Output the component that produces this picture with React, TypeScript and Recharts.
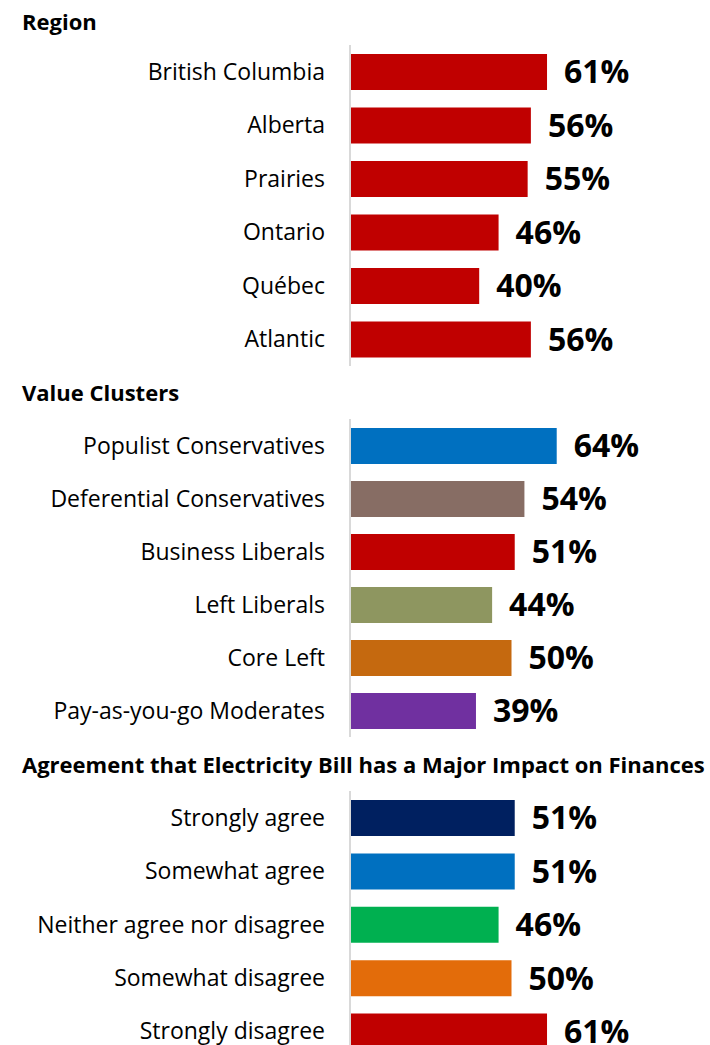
import { BarChart, Bar, XAxis, YAxis, Cell, LabelList } from "recharts";

const regionLabels = ["British Columbia", "Alberta", "Prairies", "Ontario", "Québec", "Atlantic"];
const regionValues = [61, 56, 55, 46, 40, 56];
const regionColors = ["#C00000", "#C00000", "#C00000", "#C00000", "#C00000", "#C00000"];

const clusterLabels = [
  "Populist Conservatives",
  "Deferential Conservatives",
  "Business Liberals",
  "Left Liberals",
  "Core Left",
  "Pay-as-you-go Moderates",
];
const clusterValues = [64, 54, 51, 44, 50, 39];
const clusterColors = ["#0070C0", "#876D64", "#C00000", "#8E9660", "#C5690F", "#7030A0"];

const agreeLabels = [
  "Strongly agree",
  "Somewhat agree",
  "Neither agree nor disagree",
  "Somewhat disagree",
  "Strongly disagree",
];
const agreeValues = [51, 51, 46, 50, 61];
const agreeColors = ["#002060", "#0070C0", "#00B050", "#E36C0A", "#C00000"];

const FONT = "'Open Sans', Lato, sans-serif";

type SectionProps = {
  title: string;
  titleTop: number;
  chartTop: number;
  chartHeight: number;
  labels: string[];
  values: number[];
  colors: string[];
};

function Section({ title, titleTop, chartTop, chartHeight, labels, values, colors }: SectionProps) {
  const data = labels.map((name, i) => ({ name, value: values[i] }));
  return (
    <>
      <div
        style={{
          position: "absolute",
          left: 22,
          top: titleTop,
          fontFamily: FONT,
          fontWeight: 700,
          fontSize: 22,
          lineHeight: "26px",
          color: "#000",
          whiteSpace: "nowrap",
        }}
      >
        {title}
      </div>
      <div style={{ position: "absolute", left: 0, top: chartTop }}>
        <BarChart
          width={710}
          height={chartHeight}
          data={data}
          layout="vertical"
          margin={{ top: 0, right: 37, bottom: 0, left: 0 }}
          barCategoryGap={0}
        >
          <XAxis type="number" domain={[0, 100]} hide />
          <YAxis
            type="category"
            dataKey="name"
            width={350}
            tickSize={0}
            tickMargin={25}
            axisLine={{ stroke: "#D9D9D9", strokeWidth: 2 }}
            tick={{ fill: "#000", fontSize: 23, fontFamily: FONT }}
            interval={0}
          />
          <Bar dataKey="value" barSize={36} isAnimationActive={false}>
            {data.map((d, i) => (
              <Cell key={d.name} fill={colors[i]} />
            ))}
            <LabelList
              dataKey="value"
              position="right"
              offset={17}
              formatter={(v: number) => `${v}%`}
              style={{ fill: "#000", fontSize: 32, fontWeight: 700, fontFamily: FONT }}
            />
          </Bar>
        </BarChart>
      </div>
    </>
  );
}

export default function App() {
  return (
    <div
      style={{
        position: "absolute",
        left: 0,
        top: 0,
        width: 710,
        height: 1045,
        background: "#fff",
        overflow: "hidden",
      }}
    >
      <Section
        title="Region"
        titleTop={8}
        chartTop={45}
        chartHeight={321}
        labels={regionLabels}
        values={regionValues}
        colors={regionColors}
      />
      <Section
        title="Value Clusters"
        titleTop={379}
        chartTop={419}
        chartHeight={318}
        labels={clusterLabels}
        values={clusterValues}
        colors={clusterColors}
      />
      <Section
        title="Agreement that Electricity Bill has a Major Impact on Finances"
        titleTop={751}
        chartTop={791}
        chartHeight={267}
        labels={agreeLabels}
        values={agreeValues}
        colors={agreeColors}
      />
    </div>
  );
}
